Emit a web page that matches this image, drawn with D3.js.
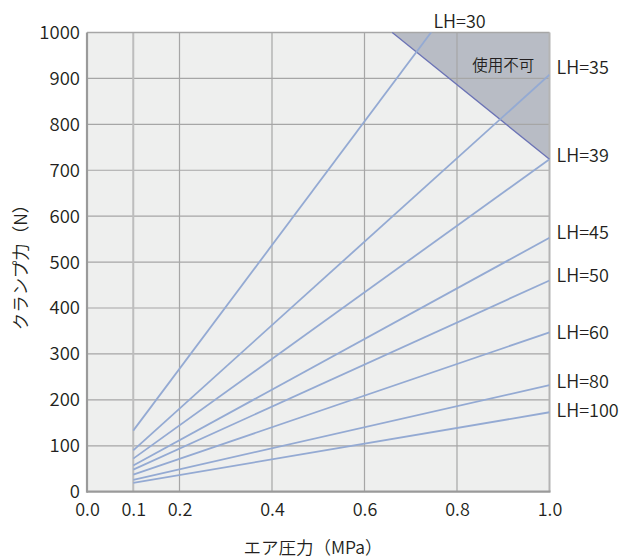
<!DOCTYPE html>
<html>
<head>
<meta charset="utf-8">
<script src="https://cdn.jsdelivr.net/npm/d3@7"></script>
<style>
  html, body { margin: 0; padding: 0; background: #ffffff; }
  svg { display: block; }
  text { font-family: "Noto Sans CJK JP", "Noto Sans", sans-serif; font-weight: 350; fill: #231f20; }
</style>
</head>
<body>
<svg id="chart" width="623" height="559"></svg>
<script>
// Clamp force vs. air pressure for each LH setting
const seriesNames = ["LH=30", "LH=35", "LH=39", "LH=45", "LH=50", "LH=60", "LH=80", "LH=100"];
const pressures = [0.1, 1.0];
const forceLH30 = [133, 1345];
const forceLH35 = [90, 908];
const forceLH39 = [72, 724];
const forceLH45 = [57, 553];
const forceLH50 = [48, 460];
const forceLH60 = [37, 347];
const forceLH80 = [26, 232];
const forceLH100 = [19, 173];
const seriesValues = [forceLH30, forceLH35, forceLH39, forceLH45, forceLH50, forceLH60, forceLH80, forceLH100];

// Unusable zone boundary (pressure, force)
const limitPressure = [0.66, 1.0];
const limitForce = [1000, 724];

const xTicks = [0.0, 0.1, 0.2, 0.4, 0.6, 0.8, 1.0];
const xTickLabels = ["0.0", "0.1", "0.2", "0.4", "0.6", "0.8", "1.0"];
const yTicks = [0, 100, 200, 300, 400, 500, 600, 700, 800, 900, 1000];
const xGrid = [0.1, 0.2, 0.4, 0.6, 0.8];

const svg = d3.select("#chart");
const margin = { left: 87, top: 32.5, right: 73.5, bottom: 67.3 };
const W = 623 - margin.left - margin.right;
const H = 559 - margin.top - margin.bottom;

const x = d3.scaleLinear().domain([0, 1]).range([0, W]);
const y = d3.scaleLinear().domain([0, 1000]).range([H, 0]);

const g = svg.append("g").attr("transform", `translate(${margin.left},${margin.top})`);

g.append("defs").append("clipPath").attr("id", "plot-clip")
  .append("rect").attr("width", W).attr("height", H);

// plot background
g.append("rect").attr("width", W).attr("height", H).attr("fill", "#eeefee");

// unusable zone
const zone = [
  [limitPressure[0], limitForce[0]],
  [1.0, 1000],
  [limitPressure[1], limitForce[1]]
];
g.append("path")
  .attr("d", d3.line().x(d => x(d[0])).y(d => y(d[1]))(zone) + "Z")
  .attr("fill", "#b8bcc5");

// horizontal grid
g.append("g").selectAll("line").data(yTicks.filter(v => v > 0 && v < 1000)).join("line")
  .attr("x1", 0).attr("x2", W)
  .attr("y1", d => y(d)).attr("y2", d => y(d))
  .attr("stroke", "#a6a6a6").attr("stroke-width", 1.2);

// vertical grid
g.append("g").selectAll("line").data(xGrid).join("line")
  .attr("x1", d => x(d)).attr("x2", d => x(d))
  .attr("y1", 0).attr("y2", H)
  .attr("stroke", d => d === 0.1 ? "#bdbdbd" : "#a6a6a6")
  .attr("stroke-width", d => d === 0.1 ? 2 : 1.2);

// frame
g.append("line").attr("x1", 0).attr("x2", W).attr("y1", 0).attr("y2", 0)
  .attr("stroke", "#a6a6a6").attr("stroke-width", 1.5);
g.append("line").attr("x1", W).attr("x2", W).attr("y1", 0).attr("y2", H)
  .attr("stroke", "#b4b4b4").attr("stroke-width", 2);
g.append("line").attr("x1", 0).attr("x2", 0).attr("y1", 0).attr("y2", H + 1)
  .attr("stroke", "#9a9a9a").attr("stroke-width", 2.2);
g.append("line").attr("x1", 0).attr("x2", W + 1).attr("y1", H).attr("y2", H)
  .attr("stroke", "#9a9a9a").attr("stroke-width", 2.2);

// zone boundary
g.append("path")
  .attr("d", d3.line().x(d => x(d[0])).y(d => y(d[1]))(zone.filter((d, i) => i !== 1)))
  .attr("fill", "none").attr("stroke", "#6b73b5").attr("stroke-width", 1.3);

// series lines
const lineGen = d3.line().x(d => x(d[0])).y(d => y(d[1]));
g.append("g").attr("clip-path", "url(#plot-clip)")
  .selectAll("path").data(seriesValues).join("path")
  .attr("d", vals => lineGen(pressures.map((p, i) => [p, vals[i]])))
  .attr("fill", "none").attr("stroke", "#94aad3").attr("stroke-width", 1.8);

// zone label
g.append("text").attr("x", x(0.9)).attr("y", y(932)).attr("text-anchor", "middle")
  .attr("dominant-baseline", "central").style("font-size", "15.5px").text("使用不可");

// series labels
const labelPos = {
  "LH=30": [x(0.745) + 28, -13],
  "LH=35": [W + 7, y(908) - 9],
  "LH=39": [W + 7, y(724) - 5],
  "LH=45": [W + 7, y(553) - 7],
  "LH=50": [W + 7, y(460) - 6],
  "LH=60": [W + 7, y(347) - 1],
  "LH=80": [W + 7, y(232) - 5],
  "LH=100": [W + 7, y(173) - 3]
};
g.append("g").selectAll("text").data(seriesNames).join("text")
  .attr("x", d => labelPos[d][0]).attr("y", d => labelPos[d][1])
  .attr("text-anchor", d => d === "LH=30" ? "middle" : "start")
  .attr("dominant-baseline", "central")
  .style("font-size", "18px").text(d => d);

// axes
const xAxis = d3.axisBottom(x).tickValues(xTicks).tickFormat((d, i) => xTickLabels[i]).tickSize(0).tickPadding(11.5);
const gx = g.append("g").attr("transform", `translate(0,${H})`).call(xAxis);
gx.select(".domain").remove();
gx.selectAll("text").style("font-size", "18px").attr("fill", "#231f20");

const yAxis = d3.axisLeft(y).tickValues(yTicks).tickFormat(d3.format("d")).tickSize(0).tickPadding(7);
const gy = g.append("g").call(yAxis);
gy.select(".domain").remove();
gy.selectAll("text").style("font-size", "18.5px").attr("fill", "#231f20");

// axis titles
svg.append("text").attr("x", 313).attr("y", 546)
  .attr("text-anchor", "middle").attr("dominant-baseline", "central")
  .style("font-size", "17.5px").text("エア圧力（MPa）");
svg.append("text")
  .attr("transform", `translate(19,263) rotate(-90)`)
  .attr("text-anchor", "middle").attr("dominant-baseline", "central")
  .style("font-size", "17.5px").text("クランプ力（N）");
</script>
</body>
</html>
